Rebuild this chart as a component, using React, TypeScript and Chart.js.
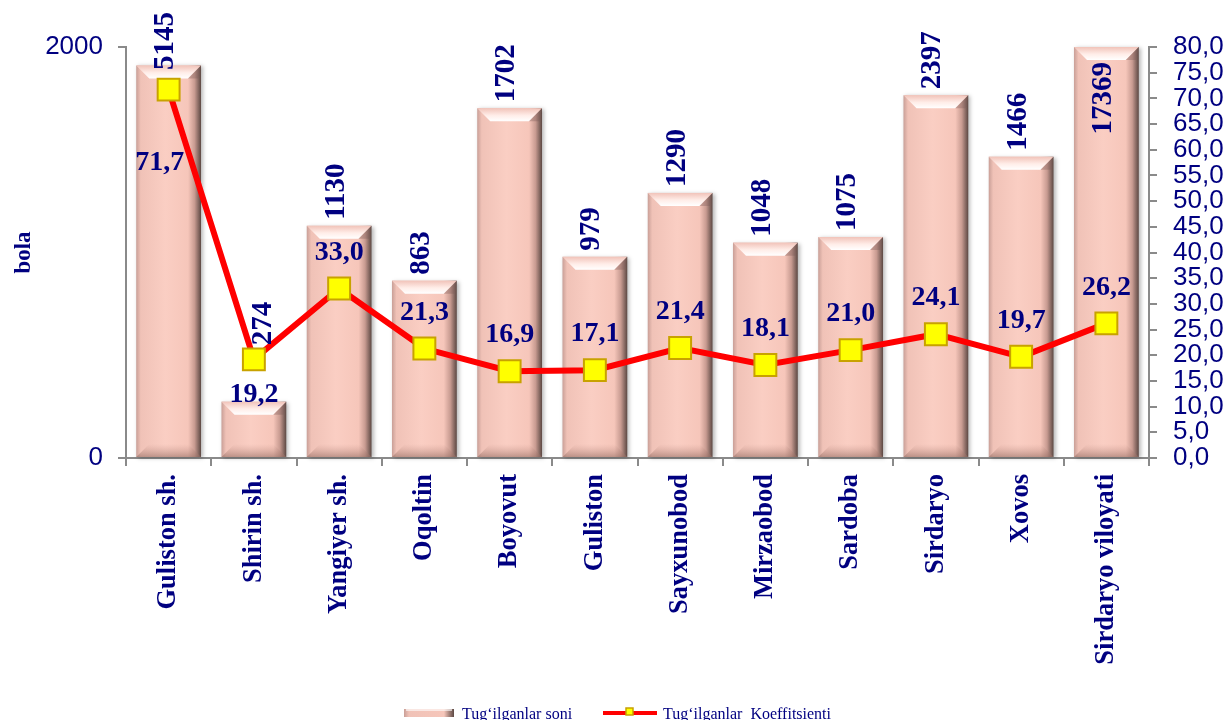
import React, { useEffect, useRef } from 'react';
import { Chart, registerables } from 'chart.js';

Chart.register(...registerables);

// ---------- data ----------
const categories = [
  'Guliston sh.', 'Shirin sh.', 'Yangiyer sh.', 'Oqoltin', 'Boyovut', 'Guliston',
  'Sayxunobod', 'Mirzaobod', 'Sardoba', 'Sirdaryo', 'Xovos', 'Sirdaryo viloyati',
];
// bar heights as drawn in the picture (left axis, "bola")
const birthsBarHeights = [1910, 274, 1130, 863, 1702, 979, 1290, 1048, 1075, 1765, 1466, 2000];
// numbers printed above the bars
const birthsLabels = [5145, 274, 1130, 863, 1702, 979, 1290, 1048, 1075, 2397, 1466, 17369];
// line series (right axis)
const coefficient = [71.7, 19.2, 33.0, 21.3, 16.9, 17.1, 21.4, 18.1, 21.0, 24.1, 19.7, 26.2];
const seriesNames = ['Tug‘ilganlar soni', 'Tug‘ilganlar  Koeffitsienti'];
const leftAxisTitle = 'bola';
const leftAxisMax = 2000;
const rightAxisMax = 80;
const rightAxisStep = 5;

// ---------- styles ----------
const NAVY = '#000080';
const SERIF = '"Liberation Serif", "Times New Roman", serif';
const SANS = '"Liberation Sans", Arial, sans-serif';
const AXIS_GREY = '#8A8A8A';

const fmt = (v: number) => v.toFixed(1).replace('.', ',');

function drawBar3D(ctx: CanvasRenderingContext2D, left: number, right: number, top: number, base: number) {
  const w = right - left;
  const h = base - top;
  if (h <= 0) return;
  ctx.save();
  ctx.shadowColor = 'rgba(0,0,0,0.28)';
  ctx.shadowBlur = 4;
  ctx.shadowOffsetX = 2;
  ctx.shadowOffsetY = 1;
  const g = ctx.createLinearGradient(left, 0, right, 0);
  g.addColorStop(0, '#C99F97');
  g.addColorStop(0.07, '#F0C2B7');
  g.addColorStop(0.45, '#FACEC3');
  g.addColorStop(0.8, '#F6C6BA');
  g.addColorStop(0.9, '#C89B91');
  g.addColorStop(1, '#5C4843');
  ctx.fillStyle = g;
  ctx.fillRect(left, top, w, h);
  ctx.restore();

  const bev = Math.min(13, h / 2, w / 4);
  ctx.save();
  // top bevel
  ctx.beginPath();
  ctx.moveTo(left, top);
  ctx.lineTo(right, top);
  ctx.lineTo(right - bev, top + bev);
  ctx.lineTo(left + bev, top + bev);
  ctx.closePath();
  const tg = ctx.createLinearGradient(0, top, 0, top + bev);
  tg.addColorStop(0, '#F1C3B9');
  tg.addColorStop(0.55, '#FFEDE8');
  tg.addColorStop(1, '#FFFFFF');
  ctx.fillStyle = tg;
  ctx.fill();
  // right corner darker
  ctx.beginPath();
  ctx.moveTo(right, top);
  ctx.lineTo(right - bev, top + bev);
  ctx.lineTo(right - bev * 0.2, top + bev);
  ctx.closePath();
  ctx.fillStyle = 'rgba(120,90,85,0.35)';
  ctx.fill();
  // bottom bevel
  ctx.beginPath();
  ctx.moveTo(left, base);
  ctx.lineTo(right, base);
  ctx.lineTo(right - bev, base - bev);
  ctx.lineTo(left + bev, base - bev);
  ctx.closePath();
  const bg = ctx.createLinearGradient(0, base - bev, 0, base);
  bg.addColorStop(0, 'rgba(200,150,140,0.0)');
  bg.addColorStop(1, 'rgba(150,110,100,0.6)');
  ctx.fillStyle = bg;
  ctx.fill();
  ctx.restore();
}

const barStylePlugin = {
  id: 'barStyle',
  afterDatasetDraw(chart: any, args: any) {
    if (args.index !== 0) return;
    const ctx = chart.ctx as CanvasRenderingContext2D;
    const meta = chart.getDatasetMeta(0);
    ctx.save();
    meta.data.forEach((el: any) => {
      const { x, y, base, width } = el.getProps(['x', 'y', 'base', 'width'], true);
      drawBar3D(ctx, x - width / 2, x + width / 2, y, base);
    });
    ctx.restore();
  },
};

const labelsPlugin = {
  id: 'valueLabels',
  afterDatasetsDraw(chart: any) {
    const ctx = chart.ctx as CanvasRenderingContext2D;
    const barMeta = chart.getDatasetMeta(0);
    const lineMeta = chart.getDatasetMeta(1);
    ctx.save();
    ctx.fillStyle = NAVY;
    // line labels
    ctx.font = `bold 28px ${SERIF}`;
    ctx.textAlign = 'center';
    ctx.textBaseline = 'middle';
    lineMeta.data.forEach((pt: any, i: number) => {
      const { x, y } = pt.getProps(['x', 'y'], true);
      let dx = 0;
      let dy = -36;
      if (i === 0) { dx = -9; dy = 73; }
      if (i === 1) { dy = 35; }
      ctx.fillText(fmt(coefficient[i]), x + dx, y + dy);
    });
    // bar labels (rotated)
    ctx.font = `bold 29px ${SERIF}`;
    barMeta.data.forEach((el: any, i: number) => {
      const { x, y } = el.getProps(['x', 'y'], true);
      const py = lineMeta.data[i].getProps(['y'], true).y;
      const text = String(birthsLabels[i]);
      const tw = ctx.measureText(text).width;
      ctx.save();
      if (birthsBarHeights[i] >= leftAxisMax) {
        ctx.translate(x - 3, y + 15);
        ctx.rotate(-Math.PI / 2);
        ctx.textAlign = 'right';
      } else {
        let ys = y - 6;
        let dx = -3;
        // keep clear of the line marker
        if (py < ys + 14 && py > ys - tw - 14) { ys = py - 14; dx = 10; }
        if (ys - tw < 12) ys = 12 + tw;
        ctx.translate(x + dx, ys);
        ctx.rotate(-Math.PI / 2);
        ctx.textAlign = 'left';
      }
      ctx.textBaseline = 'middle';
      ctx.fillText(text, 0, 0);
      ctx.restore();
    });
    ctx.restore();
  },
};

const legendPlugin = {
  id: 'customLegend',
  afterDraw(chart: any) {
    const ctx = chart.ctx as CanvasRenderingContext2D;
    ctx.save();
    // bar swatch
    const g = ctx.createLinearGradient(404, 0, 454, 0);
    g.addColorStop(0, '#C99F97');
    g.addColorStop(0.1, '#F0C2B7');
    g.addColorStop(0.8, '#F6C6BA');
    g.addColorStop(1, '#5C4843');
    ctx.fillStyle = g;
    ctx.fillRect(404, 709, 50, 8);
    ctx.fillStyle = 'rgba(255,255,255,0.6)';
    ctx.fillRect(406, 709, 46, 2);
    // line swatch
    ctx.strokeStyle = '#FF0000';
    ctx.lineWidth = 4;
    ctx.beginPath();
    ctx.moveTo(603, 713);
    ctx.lineTo(657, 713);
    ctx.stroke();
    ctx.fillStyle = '#FFFF00';
    ctx.fillRect(626, 708, 7, 7);
    ctx.strokeStyle = '#C8A200';
    ctx.lineWidth = 1.5;
    ctx.strokeRect(626, 708, 7, 7);
    // texts
    ctx.fillStyle = NAVY;
    ctx.font = `16px ${SERIF}`;
    ctx.textAlign = 'left';
    ctx.textBaseline = 'alphabetic';
    ctx.fillText(seriesNames[0], 462, 719);
    ctx.fillText(seriesNames[1], 663, 719);
    ctx.restore();
  },
};

export default function App() {
  const canvasRef = useRef<HTMLCanvasElement | null>(null);

  useEffect(() => {
    if (!canvasRef.current) return;
    const chart = new Chart(canvasRef.current, {
      data: {
        labels: categories,
        datasets: [
          {
            type: 'bar',
            label: seriesNames[0],
            data: birthsBarHeights,
            yAxisID: 'y',
            backgroundColor: 'rgba(0,0,0,0)',
            borderWidth: 0,
            categoryPercentage: 1,
            barPercentage: 0.76,
            order: 2,
          } as any,
          {
            type: 'line',
            label: seriesNames[1],
            data: coefficient,
            yAxisID: 'y1',
            borderColor: '#FF0000',
            borderWidth: 6,
            tension: 0,
            pointStyle: 'rect',
            pointRadius: 15.5,
            pointBackgroundColor: '#FFFF00',
            pointBorderColor: '#C8A200',
            pointBorderWidth: 2,
            order: 1,
            clip: false,
          } as any,
        ],
      },
      options: {
        animation: false,
        responsive: true,
        maintainAspectRatio: false,
        layout: { padding: { top: 47, left: 0, right: 0, bottom: 0 } },
        plugins: {
          legend: { display: false },
          tooltip: { enabled: false },
        },
        scales: {
          x: {
            type: 'category',
            offset: true,
            grid: {
              display: true,
              offset: true,
              drawOnChartArea: false,
              color: AXIS_GREY,
              lineWidth: 2,
              tickLength: 8,
            },
            border: { display: true, color: AXIS_GREY, width: 2 },
            ticks: {
              autoSkip: false,
              maxRotation: 90,
              minRotation: 90,
              padding: 8,
              color: NAVY,
              font: { family: SERIF, size: 26.5, weight: 'bold' },
            },
            afterFit: (s: any) => { s.height = 262; },
          },
          y: {
            position: 'left',
            min: 0,
            max: leftAxisMax,
            grid: {
              display: true,
              drawOnChartArea: false,
              color: AXIS_GREY,
              lineWidth: 2,
              tickLength: 8,
            },
            border: { display: true, color: AXIS_GREY, width: 2 },
            ticks: {
              stepSize: leftAxisMax,
              autoSkip: false,
              padding: 15,
              color: NAVY,
              font: { family: SANS, size: 26 },
              callback: (v: any) => String(v),
            },
            title: {
              display: true,
              text: leftAxisTitle,
              color: NAVY,
              font: { family: SERIF, size: 23, weight: 'bold' },
              padding: { top: 10, bottom: 0 },
            },
            afterFit: (s: any) => { s.width = 126; },
          },
          y1: {
            position: 'right',
            min: 0,
            max: rightAxisMax,
            grid: {
              display: true,
              drawOnChartArea: false,
              color: AXIS_GREY,
              lineWidth: 2,
              tickLength: 8,
            },
            border: { display: true, color: AXIS_GREY, width: 2 },
            ticks: {
              stepSize: rightAxisStep,
              autoSkip: false,
              padding: 16,
              color: NAVY,
              font: { family: SANS, size: 26 },
              callback: (v: any) => fmt(Number(v)),
            },
            afterFit: (s: any) => { s.width = 81; },
          },
        },
      } as any,
      plugins: [barStylePlugin, labelsPlugin, legendPlugin],
    });
    return () => chart.destroy();
  }, []);

  return (
    <div style={{ position: 'fixed', left: 0, top: 0, width: 1230, height: 720, background: '#FFFFFF' }}>
      <canvas ref={canvasRef} />
    </div>
  );
}
